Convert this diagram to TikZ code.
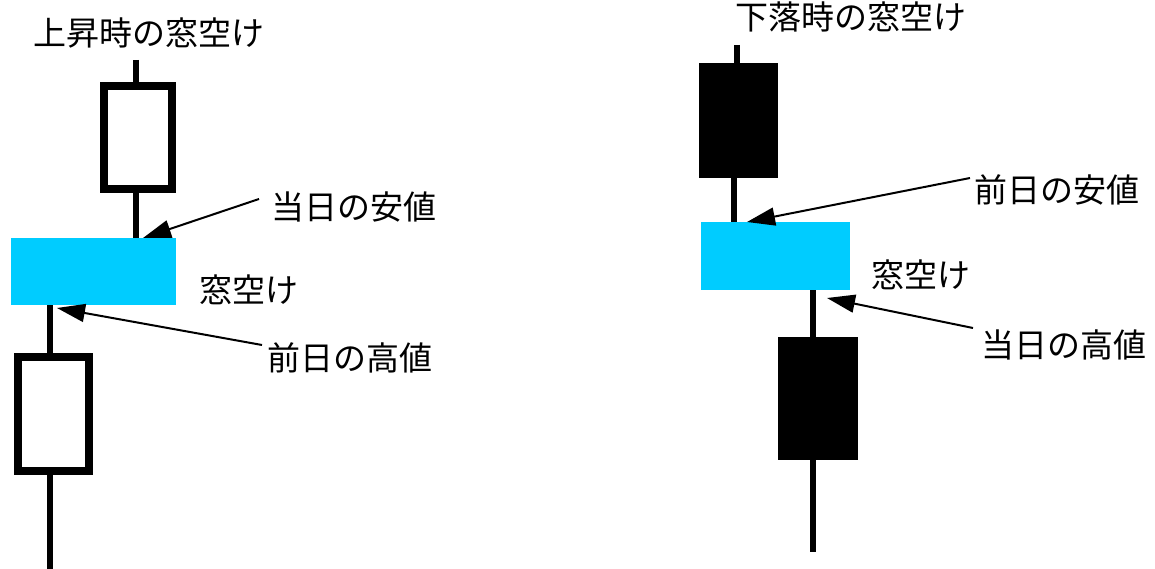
\documentclass[tikz,border=0pt]{standalone}
\usepackage{fontspec}
\newfontfamily\jp{Noto Sans CJK JP}
\usetikzlibrary{arrows.meta,backgrounds}
\definecolor{gapcyan}{RGB}{0,204,255}
\begin{document}
\begin{tikzpicture}[x=1pt,y=-1pt,
  lbl/.style={font=\jp\fontsize{33}{37}\selectfont, inner sep=0pt, anchor=west},
  whitebox/.style={draw=black, fill=white, line width=8pt, inner sep=0pt},
  blackbox/.style={fill=black, inner sep=0pt},
  gapbox/.style={fill=gapcyan, inner sep=0pt},
  wick/.style={line width=6pt},
  pointer/.style={line width=2pt, -{Triangle[length=28pt,width=18pt]}}]
\useasboundingbox (0,0) rectangle (1155,569);
% ---------- left: rising gap ----------
\node[lbl] (ltitle) at (33,33) {上昇時の窓空け};
\node[whitebox, minimum width=68pt, minimum height=103pt] (lub) at (138,137.5) {};
\node[gapbox, minimum width=165pt, minimum height=67pt] (lcy) at (93.5,271.5) {};
\node[whitebox, minimum width=71pt, minimum height=114pt] (llb) at (53.5,414) {};
\node[lbl] (llow) at (271,207) {当日の安値};
\node[lbl] (lgap) at (199,290) {窓空け};
\node[lbl] (lhigh) at (267,358) {前日の高値};
\coordinate (lt) at (136,60);
\coordinate (lb) at (50,569);
\coordinate (ltip1) at (143,238);
\coordinate (ltip2) at (57,308);
% ---------- right: falling gap ----------
\node[lbl] (rtitle) at (735,17) {下落時の窓空け};
\node[blackbox, minimum width=79pt, minimum height=115pt] (rub) at (738.5,120.5) {};
\node[gapbox, minimum width=149pt, minimum height=68pt] (rcy) at (775.5,256) {};
\node[blackbox, minimum width=80pt, minimum height=123pt] (rlb) at (818,398.5) {};
\node[lbl] (rlow) at (974,190) {前日の安値};
\node[lbl] (rgap) at (871,275) {窓空け};
\node[lbl] (rhigh) at (981,345) {当日の高値};
\coordinate (rt) at (737,45);
\coordinate (rm) at (734,200);
\coordinate (rb) at (813,552);
\coordinate (rtip1) at (747,222);
\coordinate (rtip2) at (827,298);
\begin{scope}[on background layer]
  \fill[white] (0,0) rectangle (1155,569);
  \draw[wick] (lt) -- (lt |- lub.north);
  \draw[wick] (lt |- lub.south) -- (lt |- lcy.north);
  \draw[wick] (lb |- lcy.south) -- (lb |- llb.north);
  \draw[wick] (lb |- llb.south) -- (lb);
  \draw[wick] (rt) -- (rt |- rub.north);
  \draw[wick] (rm |- rub.south) -- (rm |- rcy.north);
  \draw[wick] (rb |- rcy.south) -- (rb |- rlb.north);
  \draw[wick] (rb |- rlb.south) -- (rb);
\end{scope}
\draw[pointer] ([xshift=-12pt,yshift=8pt]llow.west) -- (ltip1);
\draw[pointer] ([xshift=-5pt,yshift=13pt]lhigh.west) -- (ltip2);
\draw[pointer] ([xshift=-4pt,yshift=12pt]rlow.west) -- (rtip1);
\draw[pointer] ([xshift=-8pt,yshift=17pt]rhigh.west) -- (rtip2);
\end{tikzpicture}
\end{document}
